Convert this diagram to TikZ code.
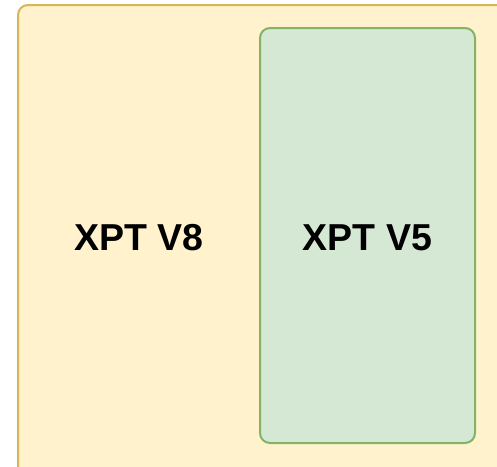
\documentclass[tikz,border=0pt]{standalone}
\usepackage{fontspec}
\setmainfont{Liberation Sans}
\definecolor{outerfill}{HTML}{FFF2CC}
\definecolor{outerline}{HTML}{D6B656}
\definecolor{innerfill}{HTML}{D5E8D4}
\definecolor{innerline}{HTML}{82B366}
\begin{document}
\begin{tikzpicture}[x=1pt,y=-1pt,
  panel/.style={rounded corners=10pt, line width=2pt},
  caption/.style={font=\fontsize{37.5}{42}\selectfont\bfseries, text=black, inner sep=0pt}]
\useasboundingbox (0,0) rectangle (497,466);
\clip (0,0) rectangle (497,466);
% outer container, running past the right and bottom edges
\draw[panel, fill=outerfill, draw=outerline] (18,5) rectangle (520,485);
% inner green panel
\draw[panel, fill=innerfill, draw=innerline] (260,28) rectangle (475,443);
\node[caption] (v8) at (139,238) {XPT V8};
\node[caption] (v5) at (367.5,238) {XPT V5};
\end{tikzpicture}
\end{document}
